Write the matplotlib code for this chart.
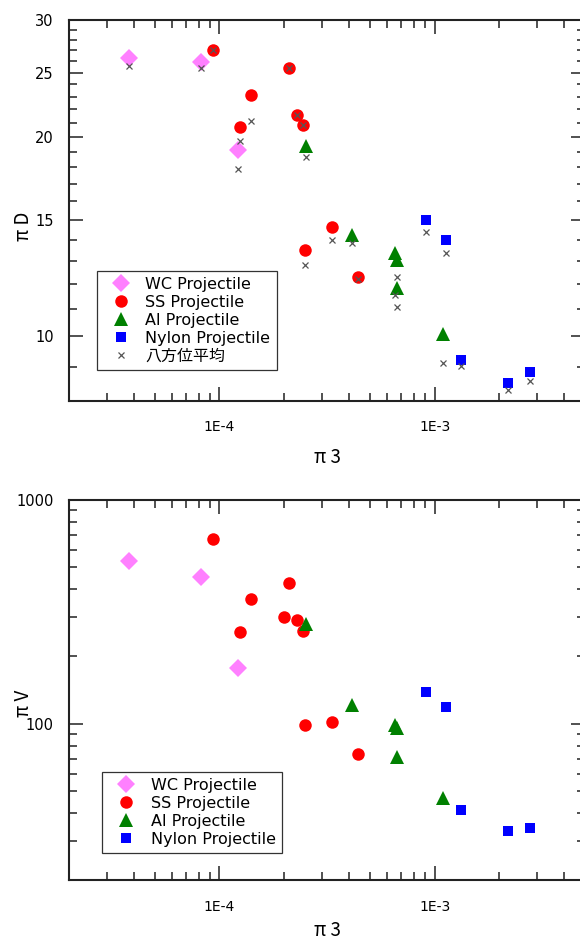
import matplotlib
matplotlib.use('Agg')
import matplotlib.pyplot as plt
from matplotlib.ticker import FixedLocator, FixedFormatter, NullFormatter
import numpy as np

plt.rcParams['font.family'] = ['DejaVu Sans', 'Noto Sans CJK JP']

# ---------------- data ----------------
wc_pi3 = [3.82e-5, 8.2e-5, 1.22e-4]
wc_piD = [26.3, 25.9, 19.1]
wc_piD_avg = [25.6, 25.4, 17.9]
wc_piV = [533, 454, 177]

ss_pi3_D = [9.3e-5, 2.11e-4, 1.40e-4, 1.24e-4, 2.29e-4, 2.44e-4, 3.35e-4, 2.51e-4, 4.39e-4]
ss_piD = [27.0, 25.4, 23.1, 20.7, 21.6, 20.8, 14.6, 13.5, 12.3]
ss_piD_avg = [27.0, 25.4, 21.1, 19.7, 21.6, 20.8, 14.0, 12.8, 12.2]
ss_pi3_V = [9.3e-5, 2.11e-4, 1.40e-4, 1.24e-4, 2.0e-4, 2.29e-4, 2.44e-4, 2.51e-4, 3.35e-4, 4.39e-4]
ss_piV = [669, 425, 363, 256, 300, 290, 260, 99, 102, 73.4]

al_pi3 = [2.53e-4, 4.12e-4, 6.54e-4, 6.70e-4, 6.66e-4, 1.095e-3]
al_piD = [19.4, 14.2, 13.37, 13.02, 11.84, 10.09]
al_piD_avg = [18.65, 13.83, 11.53, 12.28, 11.09, 9.12]
al_piV = [278, 122, 99.3, 96, 70.9, 46.6]

ny_pi3 = [9.17e-4, 1.127e-3, 1.323e-3, 2.20e-3, 2.78e-3]
ny_piD = [15.0, 13.98, 9.20, 8.52, 8.83]
ny_piD_avg = [14.35, 13.36, 9.01, 8.31, 8.58]
ny_piV = [138.5, 119.2, 41.2, 33.3, 34.2]

labels = ['WC Projectile', 'SS Projectile', 'Al Projectile', 'Nylon Projectile', '八方位平均']
x_major = [1e-4, 1e-3]
x_major_labels = ['1E-4', '1E-3']
yD_major = [10, 15, 20, 25, 30]
yV_major = [100, 1000]

# ---------------- style ----------------
c_wc = '#FF80FF'
c_ss = '#FF0000'
c_al = '#008000'
c_ny = '#0000FF'
c_x = '#555555'

W, H = 580, 943
fig = plt.figure(figsize=(W / 100, H / 100), dpi=100)

def pos(l, t, r, b):
    return [l / W, 1 - b / H, (r - l) / W, (b - t) / H]

ax1 = fig.add_axes(pos(69, 20, 585, 400.7))
ax2 = fig.add_axes(pos(69, 500, 585, 880.3))

mk = dict(linestyle='none', markeredgewidth=0)

def draw(ax, ys, yavg):
    ax.plot(wc_pi3, ys[0], marker='D', ms=8.8, color=c_wc, **mk, label=labels[0], zorder=3)
    ax.plot(ys[4], ys[1], marker='o', ms=9, color=c_ss, **mk, label=labels[1], zorder=3)
    ax.plot(al_pi3, ys[2], marker='^', ms=10, color=c_al, **mk, label=labels[2], zorder=3)
    ax.plot(ny_pi3, ys[3], marker='s', ms=7.8, color=c_ny, **mk, label=labels[3], zorder=3)
    if yavg is not None:
        xs = list(wc_pi3) + list(ss_pi3_D) + list(al_pi3) + list(ny_pi3)
        ya = list(yavg[0]) + list(yavg[1]) + list(yavg[2]) + list(yavg[3])
        ax.plot(xs, ya, linestyle='none', marker='x', ms=5, mew=0.9, color=c_x,
                label=labels[4], zorder=4)

draw(ax1, [wc_piD, ss_piD, al_piD, ny_piD, ss_pi3_D], [wc_piD_avg, ss_piD_avg, al_piD_avg, ny_piD_avg])
draw(ax2, [wc_piV, ss_piV, al_piV, ny_piV, ss_pi3_V], None)

def style(ax, ylim, ymaj, yminor):
    ax.set_xscale('log')
    ax.set_yscale('log')
    ax.set_xlim(2e-5, 5e-3)
    ax.set_ylim(*ylim)
    ax.xaxis.set_major_locator(FixedLocator(x_major))
    ax.xaxis.set_major_formatter(FixedFormatter(x_major_labels))
    xmin = [m * 10.0 ** e for e in (-5, -4, -3) for m in range(2, 10)]
    ax.xaxis.set_minor_locator(FixedLocator(xmin))
    ax.xaxis.set_minor_formatter(NullFormatter())
    ax.yaxis.set_major_locator(FixedLocator(ymaj))
    ax.yaxis.set_major_formatter(FixedFormatter([str(v) for v in ymaj]))
    ax.yaxis.set_minor_locator(FixedLocator(yminor))
    ax.yaxis.set_minor_formatter(NullFormatter())
    ax.tick_params(which='both', direction='in', top=True, right=True, width=1.1, color='#222222')
    ax.tick_params(which='major', length=10)
    ax.tick_params(which='minor', length=5.8)
    ax.tick_params(axis='x', which='major', pad=14, labelsize=10)
    ax.tick_params(axis='y', which='major', pad=11, labelsize=10.5)
    for s in ax.spines.values():
        s.set_linewidth(1.5)
        s.set_color('#222222')

yD_minor = [v for v in range(8, 31) if v not in yD_major]
yV_minor = [m * 10 ** e for e in (1, 2) for m in range(2, 10)]
style(ax1, (8, 30), yD_major, yD_minor)
style(ax2, (20, 1000), yV_major, yV_minor)

lab_font = dict(family=['Noto Sans CJK JP', 'DejaVu Sans'], fontsize=13.5)
ax1.set_ylabel('π D', **lab_font)
ax1.set_xlabel('π 3', **lab_font)
ax2.set_ylabel('π V', **lab_font)
ax2.set_xlabel('π 3', **lab_font)
ax1.yaxis.set_label_coords(-0.089, 0.459)
ax2.yaxis.set_label_coords(-0.089, 0.466)
ax1.xaxis.set_label_coords((327 - 69) / 516, -(458 - 400.7) / 380.7)
ax2.xaxis.set_label_coords((327 - 69) / 516, -(930 - 880.3) / 380.3)
for a in (ax1, ax2):
    a.xaxis.label.set_va('center')
    a.yaxis.label.set_va('center')

leg_kw = dict(loc='upper left', fontsize=11.5, frameon=True, fancybox=False,
              borderpad=0.4, handlelength=2.2, handletextpad=0.45, labelspacing=0.18,
              borderaxespad=0, numpoints=1, edgecolor='#333333')
l1 = ax1.legend(bbox_to_anchor=(96.7 / W, 1 - 270.7 / H), bbox_transform=fig.transFigure, **leg_kw)
l2 = ax2.legend(bbox_to_anchor=(102 / W, 1 - 771.7 / H), bbox_transform=fig.transFigure, **leg_kw)
for l in (l1, l2):
    l.get_frame().set_linewidth(0.9)
    l.get_frame().set_alpha(1)

fig.savefig('out.png', dpi=100)
